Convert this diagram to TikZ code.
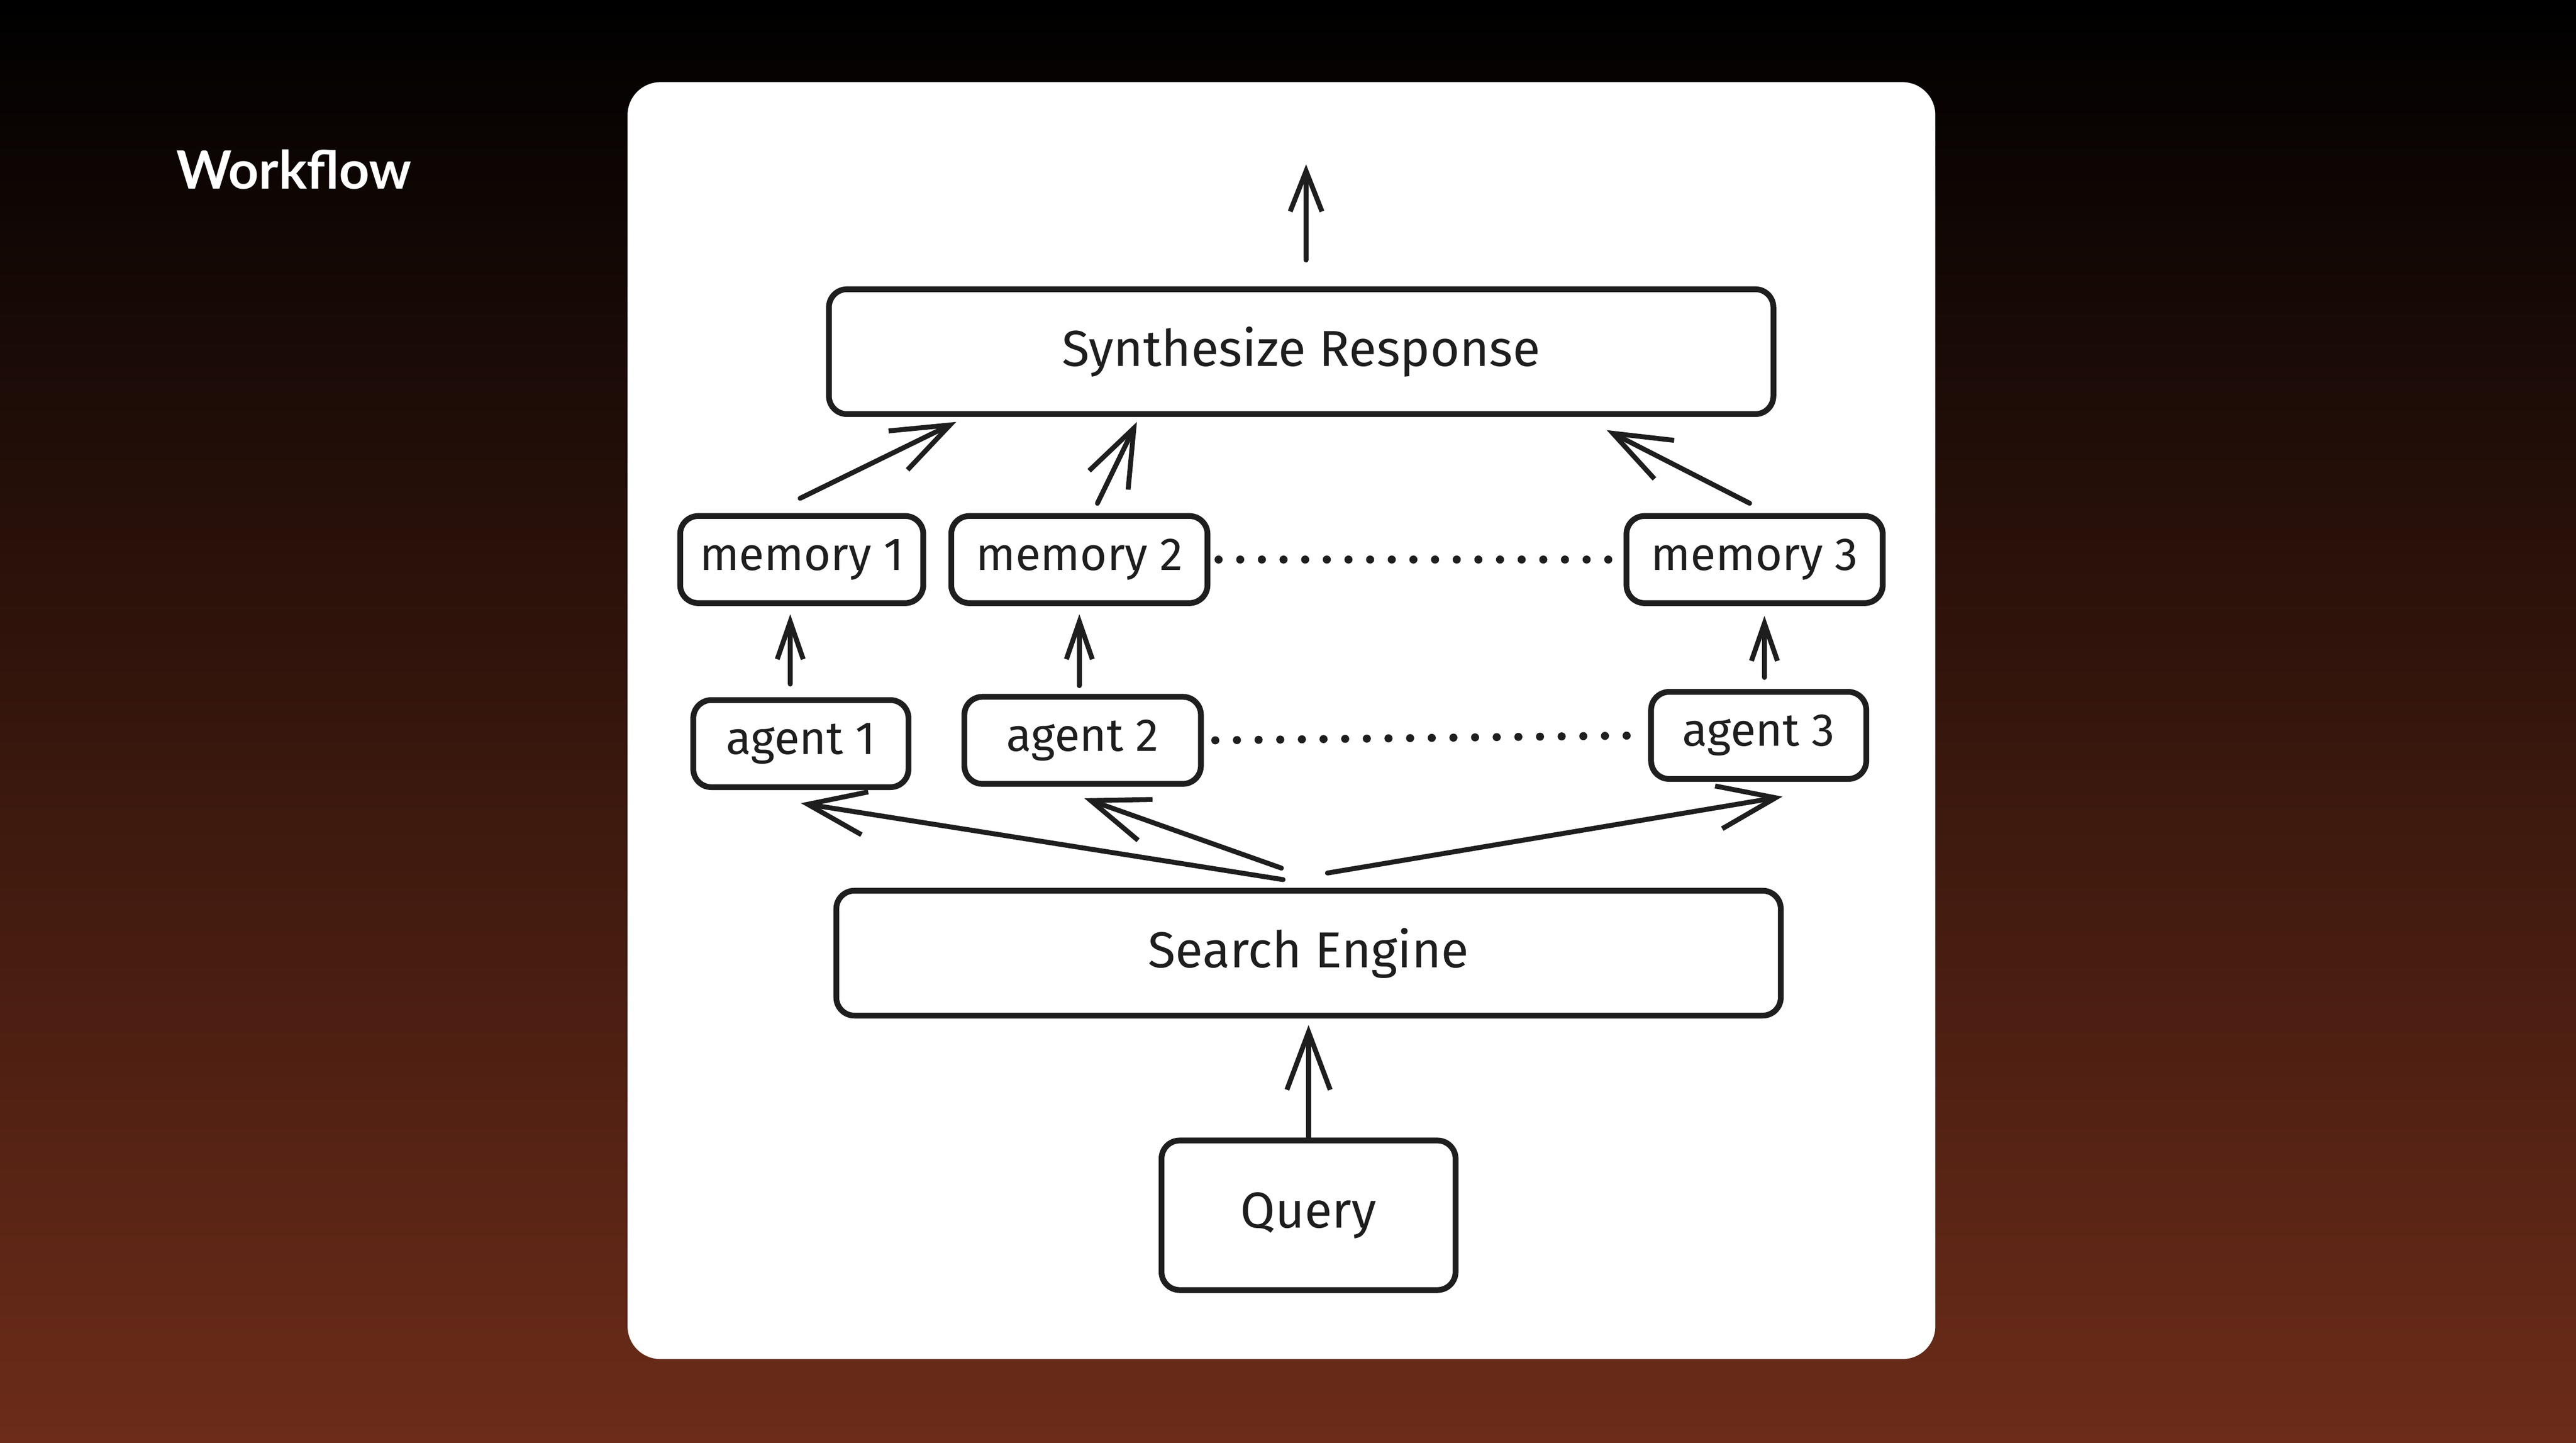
\documentclass[tikz,border=0pt]{standalone}
\usepackage{fontspec}
\setmainfont{Fira Sans}
\newfontfamily\titlefont{Lato}
\usetikzlibrary{arrows.meta}
\definecolor{ink}{HTML}{1E1E1E}
\definecolor{bgbottom}{RGB}{108,44,25}

\begin{document}
\begin{tikzpicture}[x=0.02cm, y=-0.02cm,
        box/.style={draw=ink, line width=2pt, rounded corners=0.22cm, inner sep=0pt,
            text=ink, font=\fontsize{16}{19}\selectfont},
        wide/.style={box, minimum width=11.5cm, minimum height=1.52cm, font=\fontsize{17.5}{20}\selectfont},
        small/.style={box, minimum height=1.06cm},
        arr/.style={draw=ink, line width=1.7pt, line cap=round,
            -{Straight Barb[length=13pt, width=9pt, line width=1.7pt]}},
        bigarr/.style={arr, -{Straight Barb[length=20pt, width=15pt, line width=1.7pt]}},
        dots/.style={draw=ink, line width=2.8pt, line cap=round, dash pattern=on 0pt off 7.5pt}]
    \useasboundingbox (0,0) rectangle (1568,878);
    \shade[top color=black, bottom color=bgbottom] (0,0) rectangle (1568,878);
    \fill[white, rounded corners=0.4cm] (382,50) rectangle (1178,827);
    \node[anchor=base west, inner sep=0pt, text=white, font=\titlefont\bfseries\fontsize{18.3}{22}\selectfont]
        (title) at (107,115) {Workflow};

    \node[wide] (synth) at (792,214) {Synthesize Response};
    \node[small, minimum width=2.96cm] (mem1) at (488,340.5) {memory 1};
    \node[small, minimum width=3.12cm] (mem2) at (657,340.5) {memory 2};
    \node[small, minimum width=3.12cm] (mem3) at (1068,340.5) {memory 3};
    \node[small, minimum width=2.62cm] (ag1) at (487.5,452.5) {agent 1};
    \node[small, minimum width=2.88cm] (ag2) at (659,450.5) {agent 2};
    \node[small, minimum width=2.62cm] (ag3) at (1070.5,447.5) {agent 3};
    \node[wide] (search) at (796.5,580) {Search Engine};
    \node[box, minimum width=3.58cm, minimum height=1.82cm, font=\fontsize{17.5}{20}\selectfont]
        (query) at (796.5,739.5) {Query};
    \coordinate (out) at (795,100);

    \draw[arr, -{Straight Barb[length=14pt, width=11pt, line width=1.7pt]}]
        ([xshift=0.06cm, yshift=0.32cm]synth.north) -- (out);
    \draw[bigarr] ([xshift=-0.02cm, yshift=0.18cm]mem1.north) -- ([xshift=-4.2cm, yshift=-0.06cm]synth.south);
    \draw[bigarr] ([xshift=0.22cm, yshift=0.12cm]mem2.north) -- ([xshift=-2cm, yshift=-0.06cm]synth.south);
    \draw[bigarr] ([xshift=-0.06cm, yshift=0.12cm]mem3.north) -- ([xshift=3.72cm, yshift=-0.16cm]synth.south);
    \draw[arr] ([xshift=-0.13cm, yshift=0.16cm]ag1.north) -- ([xshift=-0.14cm, yshift=-0.1cm]mem1.south);
    \draw[arr] ([xshift=-0.04cm, yshift=0.1cm]ag2.north) -- ([yshift=-0.1cm]mem2.south);
    \draw[arr] ([xshift=0.07cm, yshift=0.14cm]ag3.north) -- ([xshift=0.12cm, yshift=-0.12cm]mem3.south);
    \draw[bigarr] ([xshift=-0.31cm, yshift=0.1cm]search.north) -- ([yshift=-0.16cm]ag1.south);
    \draw[bigarr] ([xshift=-0.33cm, yshift=0.24cm]search.north) -- ([xshift=0.02cm, yshift=-0.14cm]ag2.south);
    \draw[bigarr] ([xshift=0.23cm, yshift=0.18cm]search.north) -- ([xshift=0.29cm, yshift=-0.18cm]ag3.south);
    \draw[bigarr] (query.north) -- ([yshift=-0.08cm]search.south);
    \draw[dots] ([xshift=0.1cm]mem2.east) -- (mem3.west);
    \draw[dots] ([xshift=0.14cm]ag2.east) -- (ag3.west);
\end{tikzpicture}
\end{document}
